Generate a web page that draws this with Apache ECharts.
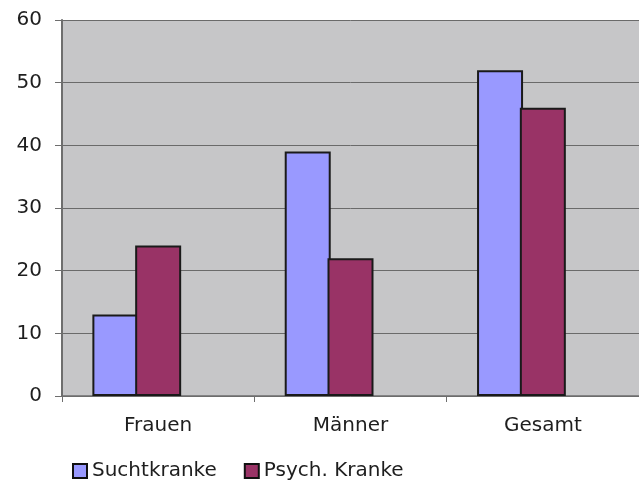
<!DOCTYPE html>
<html>
<head>
<meta charset="utf-8">
<style>
  html, body { margin: 0; padding: 0; background: #fff; }
  #chart { width: 639px; height: 484px; }
</style>
<script src="https://cdn.jsdelivr.net/npm/echarts@6/dist/echarts.min.js"></script>
</head>
<body>
<div id="chart"></div>
<script>
// Gruppen auf der x-Achse
const categories = ['Frauen', 'Männer', 'Gesamt'];
// Werte je Gruppe
const suchtkranke = [13, 39, 52];
const psychKranke = [24, 22, 46];
// leere dritte Reihe (reserviert Platz in jeder Gruppe)
const leereReihe = [null, null, null];
// Achsenbeschriftung y
const yTicks = [0, 10, 20, 30, 40, 50, 60];

const fontFamily = '"DejaVu Sans", sans-serif';
const textColor = '#1e1e1e';

const chart = echarts.init(document.getElementById('chart'), null, { renderer: 'canvas' });

chart.setOption({
  animation: false,
  backgroundColor: '#ffffff',
  grid: {
    left: 62, right: 0, top: 20, bottom: 88,
    show: true,
    backgroundColor: '#c6c6c8',
    borderWidth: 0
  },
  legend: {
    data: ['Suchtkranke', 'Psych. Kranke'],
    left: 72, top: 461,
    padding: 0,
    icon: 'rect',
    itemWidth: 14, itemHeight: 14,
    itemGap: 27,
    itemStyle: { borderColor: '#111', borderWidth: 2 },
    textStyle: { fontFamily, fontSize: 20, color: textColor }
  },
  xAxis: {
    type: 'category',
    data: categories,
    axisLine: { show: true, lineStyle: { color: '#6e6e6e', width: 1.5 } },
    axisTick: { show: true, length: 6, lineStyle: { color: '#6e6e6e' } },
    axisLabel: { fontFamily, fontSize: 20, color: textColor, margin: 20 }
  },
  yAxis: {
    type: 'value',
    min: yTicks[0], max: yTicks[yTicks.length - 1], interval: 10,
    axisLine: { show: true, lineStyle: { color: '#6e6e6e', width: 2 } },
    axisTick: { show: true, length: 7, lineStyle: { color: '#6e6e6e' } },
    axisLabel: { fontFamily, fontSize: 20, color: textColor, margin: 20 },
    splitLine: { show: true, lineStyle: { color: '#6a6a6a', width: 1 } }
  },
  series: [
    {
      name: 'Suchtkranke', type: 'bar', data: suchtkranke,
      barWidth: 46, barGap: '-7%',
      itemStyle: { color: '#9999ff', borderColor: '#1a1a1a', borderWidth: 2 }
    },
    {
      name: 'Psych. Kranke', type: 'bar', data: psychKranke,
      barWidth: 46,
      itemStyle: { color: '#993366', borderColor: '#1a1a1a', borderWidth: 2 }
    },
    {
      name: '', type: 'bar', data: leereReihe,
      barWidth: 46,
      itemStyle: { color: 'transparent' }
    }
  ]
});
</script>
</body>
</html>
